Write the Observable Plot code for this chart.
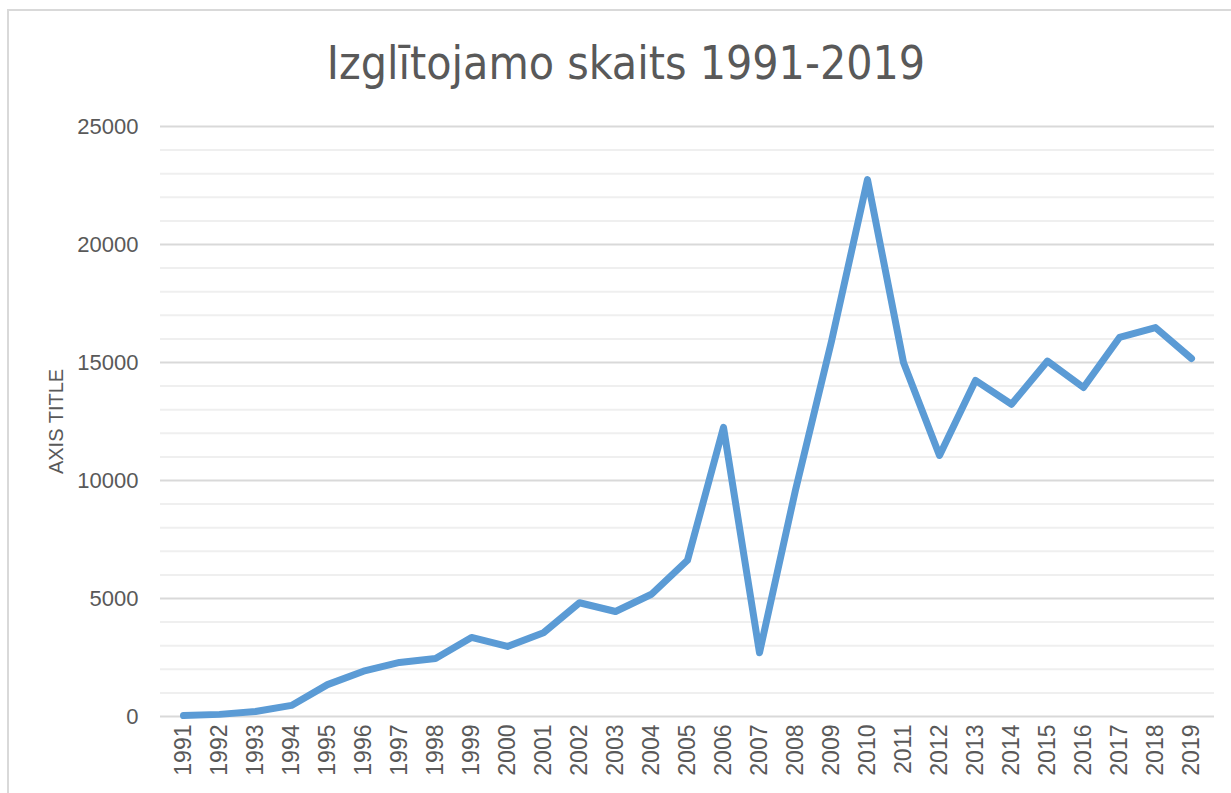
<!DOCTYPE html>
<html>
<head>
<meta charset="utf-8">
<script src="https://cdn.jsdelivr.net/npm/d3@7"></script>
<script src="https://cdn.jsdelivr.net/npm/@observablehq/plot@0.6"></script>
<style>
  html, body { margin: 0; padding: 0; background: #fff; }
  #wrap { position: relative; width: 1231px; height: 793px; overflow: hidden; }
  #frame { position: absolute; left: 7px; top: 9px; width: 1300px; height: 900px;
           border-left: 2px solid #d9d9d9; border-top: 2px solid #d9d9d9; }
  #title { position: absolute; left: 0; top: 0; width: 1252px; height: 100px;
           text-align: center; font-family: "Liberation Sans Narrow", "DejaVu Sans Condensed", sans-serif;
           font-size: 46px; color: #595959; line-height: 1; padding-top: 40px; box-sizing: border-box; }
  #chart { position: absolute; left: 0; top: 100px; }
</style>
</head>
<body>
<div id="wrap">
  <div id="frame"></div>
  <div id="title">Izglītojamo skaits 1991-2019</div>
  <div id="chart"></div>
</div>
<script>
const years = ["1991","1992","1993","1994","1995","1996","1997","1998","1999","2000",
  "2001","2002","2003","2004","2005","2006","2007","2008","2009","2010",
  "2011","2012","2013","2014","2015","2016","2017","2018","2019"];
const students = [40, 90, 210, 470, 1350, 1920, 2290, 2460, 3350, 2970,
  3550, 4820, 4450, 5180, 6620, 12250, 2700, 9600, 15900, 22750,
  15000, 11060, 14240, 13230, 15060, 13940, 16060, 16480, 15170];
const yTicks = [0, 5000, 10000, 15000, 20000, 25000];
const minorTicks = d3.range(0, 25001, 1000).filter(v => v % 5000 !== 0);
const axisTitle = "AXIS TITLE";

const data = years.map((y, i) => ({year: y, value: students[i]}));

const chart = Plot.plot({
  width: 1231,
  height: 693,
  marginLeft: 160,
  marginRight: 17,
  marginTop: 26,
  marginBottom: 77,
  style: {fontFamily: "'Liberation Sans', Arial, sans-serif", fontSize: "21px", color: "#595959", background: "transparent"},
  x: {type: "point", domain: years, padding: 0.5},
  y: {domain: [0, 25000]},
  marks: [
    Plot.ruleY(minorTicks, {stroke: "#efefef", strokeWidth: 2}),
    Plot.ruleY(yTicks, {stroke: "#d9d9d9", strokeWidth: 2}),
    Plot.axisY({ticks: yTicks, tickSize: 0, tickPadding: 22, tickFormat: d => String(d),
      fontSize: 22, fill: "#595959", label: null}),
    Plot.axisY({ticks: [], tickSize: 0, label: axisTitle, labelAnchor: "center", labelArrow: "none",
      labelOffset: 112, fontSize: 20, fill: "#595959"}),
    Plot.axisX({tickRotate: -90, tickSize: 0, tickPadding: 8, label: null, fontSize: 23, fill: "#595959"}),
    Plot.line(data, {x: "year", y: "value", stroke: "#5b9bd5", strokeWidth: 7,
      strokeLinejoin: "round", strokeLinecap: "round"})
  ]
});
document.getElementById("chart").appendChild(chart);
</script>
</body>
</html>
